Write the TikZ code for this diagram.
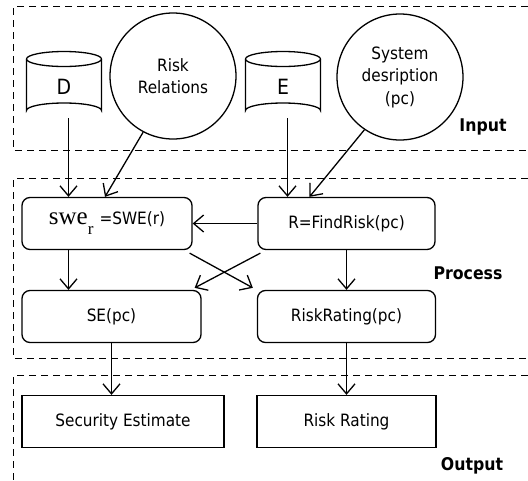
\documentclass[tikz,border=0pt]{standalone}
\usepackage{fontspec}
\setmainfont{DejaVu Sans Condensed}
\newfontfamily\serifswe{Liberation Serif}
\usetikzlibrary{arrows.meta}
\tikzset{
  x=1pt, y=-1pt,
  lw/.style={line width=1.3pt},
  grp/.style={line width=1.5pt, dash pattern=on 7pt off 5pt},
  arr/.style={lw, -{Straight Barb[length=10pt,width=17pt,line width=1.3pt]}},
  proc/.style={draw, lw, rounded corners=8pt, minimum height=52pt, inner sep=0pt, font=\fontsize{17}{20}\selectfont},
  outbox/.style={draw, lw, minimum height=52pt, inner sep=0pt, font=\fontsize{17}{20}\selectfont},
  circ/.style={draw, lw, circle, minimum size=126pt, inner sep=0pt, align=center, font=\fontsize{17}{22.5}\selectfont},
  grplabel/.style={font=\bfseries\fontsize{17.5}{20}\selectfont, inner sep=0pt},
  cyltext/.style={font=\fontsize{21}{24}\selectfont, inner sep=0pt}
}
\begin{document}
\begin{tikzpicture}
\useasboundingbox (0,0) rectangle (528,480);
\clip (0,0) rectangle (528,480);
\fill[white] (0,0) rectangle (528,480);
% group boxes
\draw[grp] (540,6.5) -- (13.5,6.5) -- (13.5,150.5) -- (540,150.5);
\draw[grp] (540,178.5) -- (13.5,178.5) -- (13.5,358.5) -- (540,358.5);
\draw[grp] (540,375.5) -- (13.5,375.5) -- (13.5,490);
\node[grplabel] (linput) at (483,127) {Input};
\node[grplabel] (lprocess) at (468,273) {Process};
\node[grplabel] (loutput) at (472,466) {Output};
% cylinders
\foreach \n/\cx/\t in {D/64/D, E/283/E}{
  \draw[lw] (\cx-37.5,59) -- (\cx-37.5,110.5) arc[start angle=180,end angle=360,x radius=37.5,y radius=7.5] -- (\cx+37.5,59);
  \draw[lw] (\cx,59) ellipse[x radius=37.5,y radius=7.5];
  \node[cyltext] (\n) at (\cx,87) {\t};
  \coordinate (\n b) at (\cx+4.5,118);
}
% circles
\node[circ] (RR) at (173,76) {Risk\\Relations};
\node[circ] (SD) at (400,77) {System\\desription\\(pc)};
% process boxes
\node[proc, minimum width=170pt] (swe) at (107,223.5) {{\serifswe\fontsize{25}{26}\selectfont swe\raisebox{-10pt}{\fontsize{17}{17}\selectfont r}}\hspace{6pt}=SWE(r)};
\node[proc, minimum width=177pt] (FR) at (346.5,223.5) {R=FindRisk(pc)};
\node[proc, minimum width=179pt] (SE) at (111.5,316.5) {SE(pc)};
\node[proc, minimum width=178pt] (RRt) at (346.5,316.5) {RiskRating(pc)};
% output boxes
\node[outbox, minimum width=202pt] (SecE) at (123,421.5) {Security Estimate};
\node[outbox, minimum width=179pt] (RiR) at (346.5,421.5) {Risk Rating};
% connectors
\draw[arr] (Db) -- (Db |- swe.north);
\draw[arr] (RR.242) -- ([xshift=-2pt]swe.north);
\draw[arr] (Eb) -- (Eb |- FR.north);
\draw[arr] (SD.236) -- ([xshift=-37pt]FR.north);
\draw[arr] (FR.west) -- (swe.east);
\draw[arr] ([xshift=-38.5pt]swe.south) -- ([xshift=-38.5pt]swe.south |- SE.north);
\draw[arr] (FR.south) -- (FR.south |- RRt.north);
\draw[arr] ([shift={(-3pt,-3pt)}]swe.south east) -- ([shift={(-4pt,2pt)}]RRt.north west);
\draw[arr] ([shift={(3pt,-3pt)}]FR.south west) -- ([shift={(-7pt,2pt)}]SE.north east);
\draw[arr] (SE.south) -- (SE.south |- SecE.north);
\draw[arr] (RRt.south) -- (RRt.south |- RiR.north);
\end{tikzpicture}
\end{document}
